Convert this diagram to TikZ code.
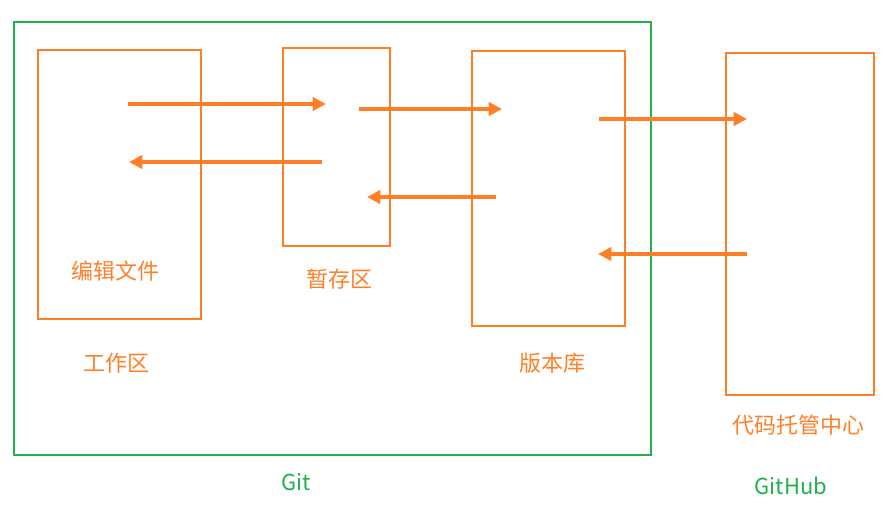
\documentclass[tikz,border=0pt]{standalone}
\usepackage{fontspec}
\setmainfont{Noto Sans CJK SC}
\usetikzlibrary{arrows.meta}
\definecolor{paintorange}{RGB}{255,127,39}
\definecolor{paintgreen}{RGB}{34,177,76}
\tikzset{
  area/.style={draw=paintorange, line width=1.7pt},
  gitarea/.style={draw=paintgreen, line width=1.7pt},
  flow/.style={draw=paintorange, line width=2.6pt, -{Triangle[length=10pt,width=10pt]}},
  lbl/.style={text=paintorange, inner sep=0.75pt, font=\fontsize{16.5}{19}\selectfont},
  glbl/.style={text=paintgreen, inner sep=0.75pt, font=\fontsize{16.5}{19}\selectfont}
}
\begin{document}
\begin{tikzpicture}[x=0.75pt,y=0.75pt,yscale=-1,xscale=1]
\useasboundingbox (0,0) rectangle (883,524);

% Git
\draw [gitarea] (14,22) rectangle (651,455);
% boxes
\draw [area] (38,50) rectangle (201,319);
\draw [area] (283,48) rectangle (390,246);
\draw [area] (472,51) rectangle (625,326);
\draw [area] (726,53) rectangle (874,395);

% arrow ends
\coordinate (work1) at (128,104);
\coordinate (stage1) at (326,104);
\coordinate (stage2) at (322,162);
\coordinate (work2) at (129,162);
\coordinate (stage3) at (359,109);
\coordinate (repo1) at (502,109);
\coordinate (repo2) at (496,197);
\coordinate (stage4) at (367,197);
\coordinate (repo3) at (599,119);
\coordinate (hub1) at (747,119);
\coordinate (hub2) at (747,254);
\coordinate (repo4) at (598,254);

\draw [flow] (work1) -- (stage1);
\draw [flow] (stage2) -- (work2);
\draw [flow] (stage3) -- (repo1);
\draw [flow] (repo2) -- (stage4);
\draw [flow] (repo3) -- (hub1);
\draw [flow] (hub2) -- (repo4);

% Text Node
\node [lbl] (edit) at (115,271) {编辑文件};
\node [lbl] (work) at (116,363) {工作区};
\node [lbl] (stage) at (339,279) {暂存区};
\node [lbl] (repo) at (552,363) {版本库};
\node [lbl] (hub) at (798,425) {代码托管中心};
\node [glbl] (git) at (296,482) {Git};
\node [glbl] (github) at (791,486) {GitHub};

\end{tikzpicture}
\end{document}
